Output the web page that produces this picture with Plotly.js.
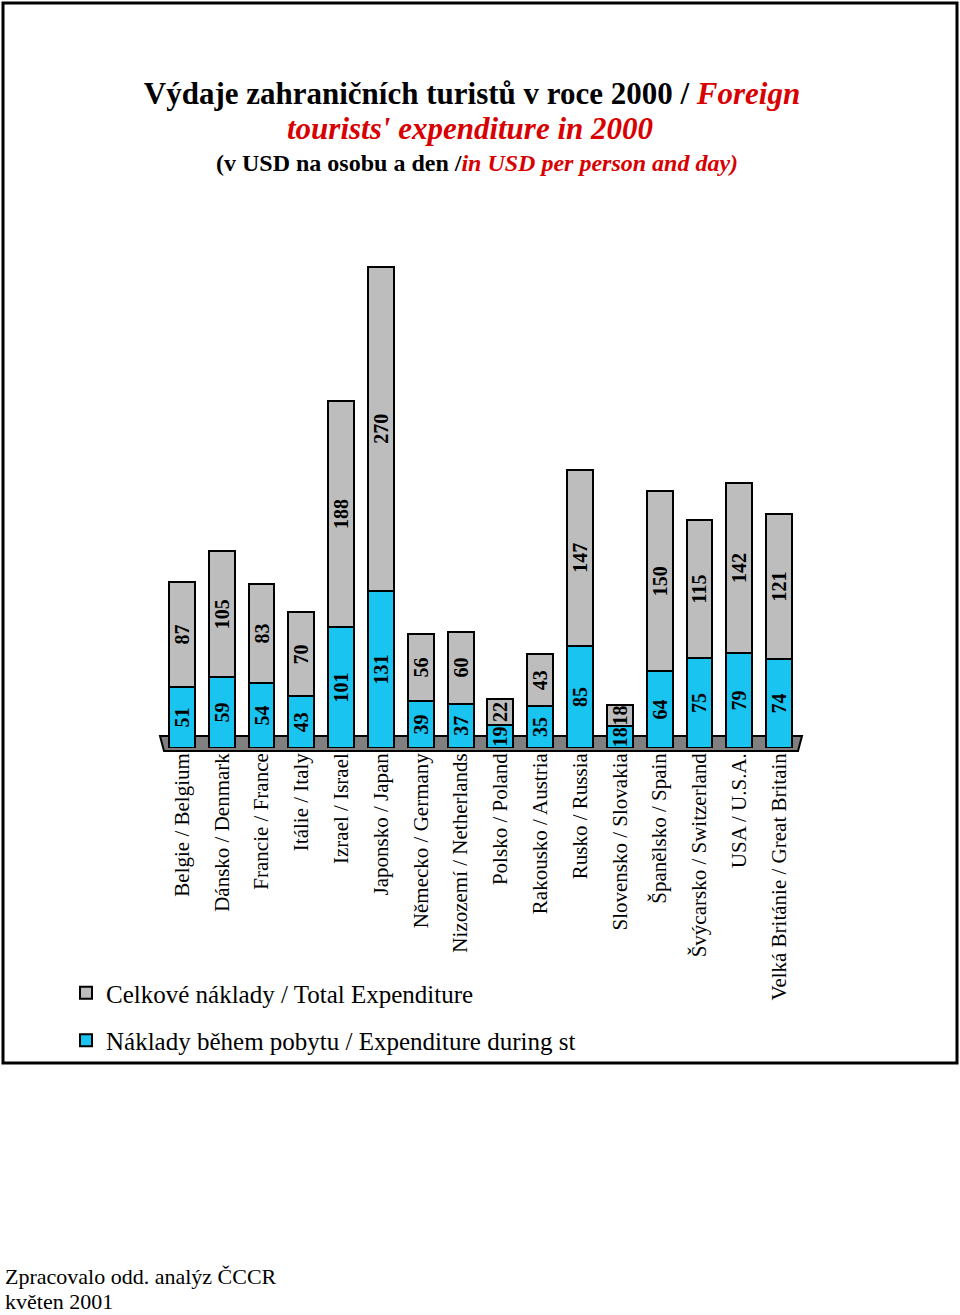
<!DOCTYPE html>
<html>
<head>
<meta charset="utf-8">
<script src="https://cdn.plot.ly/plotly-3.0.1.min.js"></script>
<style>
html,body{margin:0;padding:0;background:#fff;}
#chart{width:960px;height:1315px;}
</style>
</head>
<body>
<div id="chart"></div>
<script>
// ---- data ----
const categories = [
  "Belgie / Belgium", "Dánsko / Denmark", "Francie / France", "Itálie / Italy",
  "Izrael / Israel", "Japonsko / Japan", "Německo / Germany", "Nizozemí / Netherlands",
  "Polsko / Poland", "Rakousko / Austria", "Rusko / Russia", "Slovensko / Slovakia",
  "Španělsko / Spain", "Švýcarsko / Switzerland", "USA / U.S.A.", "Velká Británie / Great Britain"
];
const stayValues  = [51, 59, 54, 43, 101, 131, 39, 37, 19, 35, 85, 18, 64, 75, 79, 74];
const totalValues = [87, 105, 83, 70, 188, 270, 56, 60, 22, 43, 147, 18, 150, 115, 142, 121];
const seriesNames = ["Náklady během pobytu / Expenditure during st", "Celkové náklady / Total Expenditure"];

// ---- layout geometry (pixels) ----
const W = 960, H = 1315;
const L = 162, R = 161, T = 244, B = 567;
const PW = W - L - R, PH = H - T - B;
const px = x => (x - L) / PW;
const py = y => (H - B - y) / PH;

const serif = "Liberation Serif, Times New Roman, serif";

const traces = [
  {
    type: "bar", name: seriesNames[0], x: categories, y: stayValues,
    text: stayValues.map(String), textposition: "inside", insidetextanchor: "middle",
    textangle: -90, constraintext: "none", cliponaxis: false,
    textfont: {family: serif, size: 20, color: "#000", weight: "bold"},
    marker: {color: "#19c4f0", line: {color: "#000", width: 2}},
    legendgroup: "a", legendrank: 2, hoverinfo: "x+y"
  },
  {
    type: "bar", name: seriesNames[1], x: categories, y: totalValues,
    text: totalValues.map(String), textposition: "inside", insidetextanchor: "middle",
    textangle: -90, constraintext: "none", cliponaxis: false,
    textfont: {family: serif, size: 20, color: "#000", weight: "bold"},
    marker: {color: "#bdbdbd", line: {color: "#000", width: 2}},
    legendgroup: "b", legendrank: 1, hoverinfo: "x+y"
  }
];

const red = "#d80000";
const layout = {
  width: W, height: H,
  margin: {l: L, r: R, t: T, b: B, pad: 0, autoexpand: false},
  paper_bgcolor: "#fff", plot_bgcolor: "rgba(0,0,0,0)",
  barmode: "stack", bargap: 0.35,
  showlegend: true,
  title: {
    text: "<b>Výdaje zahraničních turistů v roce 2000 / <i><span style='color:" + red + "'>Foreign</span></i></b>",
    font: {family: serif, size: 31, color: "#000"},
    x: 472 / W, xanchor: "center", xref: "container",
    y: 1 - 93 / H, yanchor: "middle", yref: "container", automargin: false
  },
  xaxis: {
    type: "category", showgrid: false, zeroline: false, showline: false, ticks: "",
    tickangle: -90, tickfont: {family: serif, size: 21, color: "#000"},
    range: [-0.5, categories.length - 0.5], fixedrange: true, automargin: false
  },
  yaxis: {visible: false, range: [0, 420], fixedrange: true, automargin: false},
  legend: {
    x: 66 / W, xref: "container", xanchor: "left",
    y: 1 - 970 / H, yref: "container", yanchor: "top",
    font: {family: serif, size: 25, color: "#000"},
    traceorder: "grouped", tracegroupgap: 12,
    bgcolor: "rgba(0,0,0,0)", itemclick: false, itemdoubleclick: false
  },
  shapes: [
    // outer frame
    {type: "rect", xref: "paper", yref: "paper", layer: "above",
     x0: px(3), x1: px(957), y0: py(1063), y1: py(3),
     line: {color: "#000", width: 3}, fillcolor: "rgba(0,0,0,0)"},
    // floor of the chart
    {type: "path", xref: "paper", yref: "paper", layer: "below",
     path: "M " + px(160) + " " + py(736) + " L " + px(802) + " " + py(736) +
           " L " + px(798) + " " + py(751) + " L " + px(164) + " " + py(751) + " Z",
     fillcolor: "#808080", line: {color: "#000", width: 2}}
  ],
  annotations: [
    {xref: "paper", yref: "paper", x: px(470), y: py(129), xanchor: "center", yanchor: "middle",
     showarrow: false, font: {family: serif, size: 31, color: red},
     text: "<b><i>tourists' expenditure in 2000</i></b>"},
    {xref: "paper", yref: "paper", x: px(477), y: py(163), xanchor: "center", yanchor: "middle",
     showarrow: false, font: {family: serif, size: 24, color: "#000"},
     text: "<b>(v USD na osobu a den /<i><span style='color:" + red + "'>in USD per person and day)</span></i></b>"},
    {xref: "paper", yref: "paper", x: px(4), y: py(1276), xanchor: "left", yanchor: "middle",
     showarrow: false, font: {family: serif, size: 22, color: "#000"}, borderpad: 0,
     text: "Zpracovalo odd. analýz ČCCR"},
    {xref: "paper", yref: "paper", x: px(4), y: py(1301), xanchor: "left", yanchor: "middle",
     showarrow: false, font: {family: serif, size: 22, color: "#000"}, borderpad: 0,
     text: "květen 2001"}
  ]
};

Plotly.newPlot("chart", traces, layout, {displayModeBar: false, staticPlot: true});
</script>
</body>
</html>
